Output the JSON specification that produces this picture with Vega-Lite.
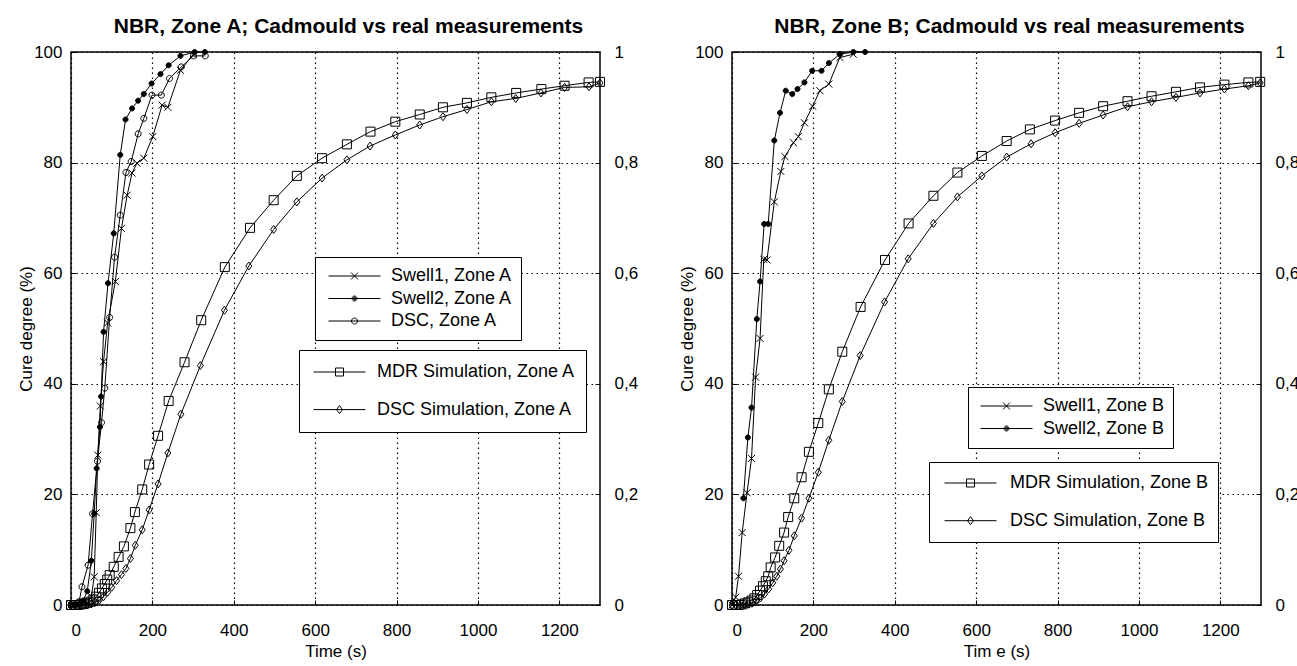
{
"$schema": "https://vega.github.io/schema/vega-lite/v6.json",
"background": "white",
"padding": {"left": 16, "top": 15, "right": 0, "bottom": 0},
"datasets": {"d": [
{"s":"MDR Simulation, Zone A","t":0,"c":0},{"s":"MDR Simulation, Zone A","t":8,"c":0},{"s":"MDR Simulation, Zone A","t":16,"c":0},{"s":"MDR Simulation, Zone A","t":24,"c":0.1},{"s":"MDR Simulation, Zone A","t":32,"c":0.2},{"s":"MDR Simulation, Zone A","t":40,"c":0.4},{"s":"MDR Simulation, Zone A","t":48,"c":0.6},{"s":"MDR Simulation, Zone A","t":55,"c":1.0},{"s":"MDR Simulation, Zone A","t":62,"c":1.5},{"s":"MDR Simulation, Zone A","t":69,"c":2.2},{"s":"MDR Simulation, Zone A","t":76,"c":3.0},{"s":"MDR Simulation, Zone A","t":83,"c":3.8},{"s":"MDR Simulation, Zone A","t":89,"c":4.6},{"s":"MDR Simulation, Zone A","t":95,"c":5.4},{"s":"MDR Simulation, Zone A","t":105,"c":6.9},{"s":"MDR Simulation, Zone A","t":117,"c":8.7},{"s":"MDR Simulation, Zone A","t":130,"c":10.6},{"s":"MDR Simulation, Zone A","t":146,"c":13.9},{"s":"MDR Simulation, Zone A","t":157,"c":16.8},{"s":"MDR Simulation, Zone A","t":175,"c":20.9},{"s":"MDR Simulation, Zone A","t":192,"c":25.4},{"s":"MDR Simulation, Zone A","t":214,"c":30.6},{"s":"MDR Simulation, Zone A","t":240,"c":36.9},{"s":"MDR Simulation, Zone A","t":279,"c":43.9},{"s":"MDR Simulation, Zone A","t":320,"c":51.5},{"s":"MDR Simulation, Zone A","t":378,"c":61.1},{"s":"MDR Simulation, Zone A","t":440,"c":68.2},{"s":"MDR Simulation, Zone A","t":498,"c":73.2},{"s":"MDR Simulation, Zone A","t":555,"c":77.6},{"s":"MDR Simulation, Zone A","t":617,"c":80.8},{"s":"MDR Simulation, Zone A","t":678,"c":83.3},{"s":"MDR Simulation, Zone A","t":736,"c":85.6},{"s":"MDR Simulation, Zone A","t":797,"c":87.4},{"s":"MDR Simulation, Zone A","t":857,"c":88.7},{"s":"MDR Simulation, Zone A","t":914,"c":90.0},{"s":"MDR Simulation, Zone A","t":973,"c":90.8},{"s":"MDR Simulation, Zone A","t":1033,"c":91.8},{"s":"MDR Simulation, Zone A","t":1094,"c":92.6},{"s":"MDR Simulation, Zone A","t":1156,"c":93.3},{"s":"MDR Simulation, Zone A","t":1213,"c":93.9},{"s":"MDR Simulation, Zone A","t":1272,"c":94.5},{"s":"MDR Simulation, Zone A","t":1300,"c":94.6},
{"s":"DSC Simulation, Zone A","t":0,"c":0},{"s":"DSC Simulation, Zone A","t":10,"c":0},{"s":"DSC Simulation, Zone A","t":20,"c":0},{"s":"DSC Simulation, Zone A","t":30,"c":0},{"s":"DSC Simulation, Zone A","t":40,"c":0.1},{"s":"DSC Simulation, Zone A","t":50,"c":0.2},{"s":"DSC Simulation, Zone A","t":60,"c":0.5},{"s":"DSC Simulation, Zone A","t":70,"c":0.9},{"s":"DSC Simulation, Zone A","t":80,"c":1.5},{"s":"DSC Simulation, Zone A","t":90,"c":2.3},{"s":"DSC Simulation, Zone A","t":100,"c":3.2},{"s":"DSC Simulation, Zone A","t":112,"c":4.4},{"s":"DSC Simulation, Zone A","t":124,"c":5.5},{"s":"DSC Simulation, Zone A","t":135,"c":6.6},{"s":"DSC Simulation, Zone A","t":146,"c":8.4},{"s":"DSC Simulation, Zone A","t":158,"c":10.8},{"s":"DSC Simulation, Zone A","t":175,"c":13.6},{"s":"DSC Simulation, Zone A","t":192,"c":17.2},{"s":"DSC Simulation, Zone A","t":214,"c":21.9},{"s":"DSC Simulation, Zone A","t":238,"c":27.5},{"s":"DSC Simulation, Zone A","t":270,"c":34.5},{"s":"DSC Simulation, Zone A","t":318,"c":43.3},{"s":"DSC Simulation, Zone A","t":377,"c":53.3},{"s":"DSC Simulation, Zone A","t":437,"c":61.3},{"s":"DSC Simulation, Zone A","t":498,"c":67.9},{"s":"DSC Simulation, Zone A","t":555,"c":72.9},{"s":"DSC Simulation, Zone A","t":617,"c":77.2},{"s":"DSC Simulation, Zone A","t":678,"c":80.5},{"s":"DSC Simulation, Zone A","t":735,"c":83.0},{"s":"DSC Simulation, Zone A","t":797,"c":85.0},{"s":"DSC Simulation, Zone A","t":857,"c":86.8},{"s":"DSC Simulation, Zone A","t":914,"c":88.3},{"s":"DSC Simulation, Zone A","t":973,"c":89.6},{"s":"DSC Simulation, Zone A","t":1033,"c":91.0},{"s":"DSC Simulation, Zone A","t":1093,"c":91.6},{"s":"DSC Simulation, Zone A","t":1155,"c":92.6},{"s":"DSC Simulation, Zone A","t":1213,"c":93.6},{"s":"DSC Simulation, Zone A","t":1273,"c":93.7},{"s":"DSC Simulation, Zone A","t":1300,"c":94.4},
{"s":"Swell1, Zone A","t":0,"c":0},{"s":"Swell1, Zone A","t":20,"c":0},{"s":"Swell1, Zone A","t":40,"c":0.3},{"s":"Swell1, Zone A","t":50,"c":1.5},{"s":"Swell1, Zone A","t":57,"c":5.1},{"s":"Swell1, Zone A","t":62,"c":16.7},{"s":"Swell1, Zone A","t":66,"c":27.1},{"s":"Swell1, Zone A","t":72,"c":36},{"s":"Swell1, Zone A","t":80,"c":44},{"s":"Swell1, Zone A","t":90,"c":51},{"s":"Swell1, Zone A","t":109,"c":58.5},{"s":"Swell1, Zone A","t":124,"c":68.1},{"s":"Swell1, Zone A","t":138,"c":74.1},{"s":"Swell1, Zone A","t":150,"c":78.1},{"s":"Swell1, Zone A","t":162,"c":79.9},{"s":"Swell1, Zone A","t":179,"c":80.8},{"s":"Swell1, Zone A","t":201,"c":84.7},{"s":"Swell1, Zone A","t":224,"c":90.4},{"s":"Swell1, Zone A","t":238,"c":90.0},{"s":"Swell1, Zone A","t":269,"c":96.7},{"s":"Swell1, Zone A","t":300,"c":99.5},
{"s":"Swell2, Zone A","t":0,"c":0},{"s":"Swell2, Zone A","t":10,"c":0},{"s":"Swell2, Zone A","t":20,"c":0.2},{"s":"Swell2, Zone A","t":30,"c":0.8},{"s":"Swell2, Zone A","t":40,"c":2.5},{"s":"Swell2, Zone A","t":50,"c":8},{"s":"Swell2, Zone A","t":57,"c":16.5},{"s":"Swell2, Zone A","t":63,"c":24.7},{"s":"Swell2, Zone A","t":71,"c":32.2},{"s":"Swell2, Zone A","t":74,"c":37.7},{"s":"Swell2, Zone A","t":80,"c":49.4},{"s":"Swell2, Zone A","t":91,"c":58.2},{"s":"Swell2, Zone A","t":105,"c":67.2},{"s":"Swell2, Zone A","t":121,"c":81.4},{"s":"Swell2, Zone A","t":134,"c":87.8},{"s":"Swell2, Zone A","t":150,"c":89.8},{"s":"Swell2, Zone A","t":165,"c":91.2},{"s":"Swell2, Zone A","t":179,"c":92.4},{"s":"Swell2, Zone A","t":198,"c":94.3},{"s":"Swell2, Zone A","t":220,"c":96.0},{"s":"Swell2, Zone A","t":240,"c":97.6},{"s":"Swell2, Zone A","t":269,"c":99.3},{"s":"Swell2, Zone A","t":304,"c":100},{"s":"Swell2, Zone A","t":329,"c":100},
{"s":"DSC, Zone A","t":0,"c":0},{"s":"DSC, Zone A","t":10,"c":0},{"s":"DSC, Zone A","t":20,"c":0.6},{"s":"DSC, Zone A","t":27,"c":3.3},{"s":"DSC, Zone A","t":42,"c":7.2},{"s":"DSC, Zone A","t":53,"c":16.5},{"s":"DSC, Zone A","t":65,"c":26},{"s":"DSC, Zone A","t":75,"c":33},{"s":"DSC, Zone A","t":83,"c":39.2},{"s":"DSC, Zone A","t":95,"c":52},{"s":"DSC, Zone A","t":107,"c":62.9},{"s":"DSC, Zone A","t":121,"c":70.5},{"s":"DSC, Zone A","t":135,"c":78.2},{"s":"DSC, Zone A","t":148,"c":80.2},{"s":"DSC, Zone A","t":165,"c":85.2},{"s":"DSC, Zone A","t":179,"c":88.0},{"s":"DSC, Zone A","t":199,"c":92.2},{"s":"DSC, Zone A","t":222,"c":92.2},{"s":"DSC, Zone A","t":242,"c":95.2},{"s":"DSC, Zone A","t":271,"c":97.3},{"s":"DSC, Zone A","t":301,"c":99.3},{"s":"DSC, Zone A","t":330,"c":99.3},
{"s":"MDR Simulation, Zone B","t":0,"c":0},{"s":"MDR Simulation, Zone B","t":8,"c":0},{"s":"MDR Simulation, Zone B","t":16,"c":0},{"s":"MDR Simulation, Zone B","t":24,"c":0.1},{"s":"MDR Simulation, Zone B","t":32,"c":0.3},{"s":"MDR Simulation, Zone B","t":40,"c":0.5},{"s":"MDR Simulation, Zone B","t":48,"c":0.8},{"s":"MDR Simulation, Zone B","t":55,"c":1.2},{"s":"MDR Simulation, Zone B","t":62,"c":1.8},{"s":"MDR Simulation, Zone B","t":69,"c":2.6},{"s":"MDR Simulation, Zone B","t":76,"c":3.4},{"s":"MDR Simulation, Zone B","t":83,"c":4.3},{"s":"MDR Simulation, Zone B","t":89,"c":5.2},{"s":"MDR Simulation, Zone B","t":95,"c":6.8},{"s":"MDR Simulation, Zone B","t":106,"c":8.6},{"s":"MDR Simulation, Zone B","t":116,"c":10.7},{"s":"MDR Simulation, Zone B","t":128,"c":13.1},{"s":"MDR Simulation, Zone B","t":138,"c":15.9},{"s":"MDR Simulation, Zone B","t":153,"c":19.3},{"s":"MDR Simulation, Zone B","t":171,"c":23.1},{"s":"MDR Simulation, Zone B","t":189,"c":27.7},{"s":"MDR Simulation, Zone B","t":212,"c":32.9},{"s":"MDR Simulation, Zone B","t":238,"c":39.0},{"s":"MDR Simulation, Zone B","t":271,"c":45.8},{"s":"MDR Simulation, Zone B","t":316,"c":53.9},{"s":"MDR Simulation, Zone B","t":376,"c":62.4},{"s":"MDR Simulation, Zone B","t":434,"c":69.0},{"s":"MDR Simulation, Zone B","t":495,"c":74.0},{"s":"MDR Simulation, Zone B","t":554,"c":78.2},{"s":"MDR Simulation, Zone B","t":614,"c":81.2},{"s":"MDR Simulation, Zone B","t":675,"c":83.9},{"s":"MDR Simulation, Zone B","t":732,"c":86.0},{"s":"MDR Simulation, Zone B","t":794,"c":87.6},{"s":"MDR Simulation, Zone B","t":853,"c":89.0},{"s":"MDR Simulation, Zone B","t":912,"c":90.2},{"s":"MDR Simulation, Zone B","t":972,"c":91.1},{"s":"MDR Simulation, Zone B","t":1031,"c":92.0},{"s":"MDR Simulation, Zone B","t":1091,"c":92.8},{"s":"MDR Simulation, Zone B","t":1150,"c":93.6},{"s":"MDR Simulation, Zone B","t":1210,"c":94.1},{"s":"MDR Simulation, Zone B","t":1269,"c":94.5},{"s":"MDR Simulation, Zone B","t":1298,"c":94.6},
{"s":"DSC Simulation, Zone B","t":0,"c":0},{"s":"DSC Simulation, Zone B","t":10,"c":0},{"s":"DSC Simulation, Zone B","t":20,"c":0},{"s":"DSC Simulation, Zone B","t":30,"c":0.1},{"s":"DSC Simulation, Zone B","t":40,"c":0.2},{"s":"DSC Simulation, Zone B","t":50,"c":0.4},{"s":"DSC Simulation, Zone B","t":60,"c":0.8},{"s":"DSC Simulation, Zone B","t":70,"c":1.3},{"s":"DSC Simulation, Zone B","t":80,"c":2.0},{"s":"DSC Simulation, Zone B","t":90,"c":2.9},{"s":"DSC Simulation, Zone B","t":100,"c":4.0},{"s":"DSC Simulation, Zone B","t":110,"c":5.2},{"s":"DSC Simulation, Zone B","t":119,"c":6.5},{"s":"DSC Simulation, Zone B","t":128,"c":8.0},{"s":"DSC Simulation, Zone B","t":140,"c":9.9},{"s":"DSC Simulation, Zone B","t":153,"c":12.5},{"s":"DSC Simulation, Zone B","t":171,"c":15.7},{"s":"DSC Simulation, Zone B","t":189,"c":19.3},{"s":"DSC Simulation, Zone B","t":212,"c":24.0},{"s":"DSC Simulation, Zone B","t":238,"c":29.8},{"s":"DSC Simulation, Zone B","t":271,"c":36.8},{"s":"DSC Simulation, Zone B","t":315,"c":45.1},{"s":"DSC Simulation, Zone B","t":375,"c":54.8},{"s":"DSC Simulation, Zone B","t":433,"c":62.6},{"s":"DSC Simulation, Zone B","t":495,"c":69.0},{"s":"DSC Simulation, Zone B","t":554,"c":73.8},{"s":"DSC Simulation, Zone B","t":614,"c":77.6},{"s":"DSC Simulation, Zone B","t":675,"c":81.0},{"s":"DSC Simulation, Zone B","t":735,"c":83.4},{"s":"DSC Simulation, Zone B","t":794,"c":85.4},{"s":"DSC Simulation, Zone B","t":853,"c":87.1},{"s":"DSC Simulation, Zone B","t":912,"c":88.6},{"s":"DSC Simulation, Zone B","t":972,"c":90.1},{"s":"DSC Simulation, Zone B","t":1031,"c":91.0},{"s":"DSC Simulation, Zone B","t":1091,"c":91.8},{"s":"DSC Simulation, Zone B","t":1150,"c":92.6},{"s":"DSC Simulation, Zone B","t":1210,"c":93.3},{"s":"DSC Simulation, Zone B","t":1269,"c":93.9},{"s":"DSC Simulation, Zone B","t":1298,"c":94.4},
{"s":"Swell1, Zone B","t":0,"c":0},{"s":"Swell1, Zone B","t":9,"c":1.4},{"s":"Swell1, Zone B","t":16,"c":5.2},{"s":"Swell1, Zone B","t":25,"c":13.1},{"s":"Swell1, Zone B","t":37,"c":20.3},{"s":"Swell1, Zone B","t":48,"c":26.5},{"s":"Swell1, Zone B","t":58,"c":41.2},{"s":"Swell1, Zone B","t":69,"c":48.2},{"s":"Swell1, Zone B","t":78,"c":62.5},{"s":"Swell1, Zone B","t":86,"c":62.4},{"s":"Swell1, Zone B","t":104,"c":72.9},{"s":"Swell1, Zone B","t":120,"c":78.4},{"s":"Swell1, Zone B","t":130,"c":81.1},{"s":"Swell1, Zone B","t":151,"c":83.6},{"s":"Swell1, Zone B","t":163,"c":84.7},{"s":"Swell1, Zone B","t":178,"c":87.2},{"s":"Swell1, Zone B","t":198,"c":90.2},{"s":"Swell1, Zone B","t":216,"c":93.0},{"s":"Swell1, Zone B","t":238,"c":94.2},{"s":"Swell1, Zone B","t":265,"c":99.0},{"s":"Swell1, Zone B","t":298,"c":99.6},
{"s":"Swell2, Zone B","t":28,"c":19.3},{"s":"Swell2, Zone B","t":39,"c":30.3},{"s":"Swell2, Zone B","t":48,"c":35.7},{"s":"Swell2, Zone B","t":61,"c":51.7},{"s":"Swell2, Zone B","t":69,"c":58.5},{"s":"Swell2, Zone B","t":79,"c":68.9},{"s":"Swell2, Zone B","t":89,"c":68.9},{"s":"Swell2, Zone B","t":104,"c":84.0},{"s":"Swell2, Zone B","t":118,"c":89.0},{"s":"Swell2, Zone B","t":132,"c":93.0},{"s":"Swell2, Zone B","t":148,"c":92.4},{"s":"Swell2, Zone B","t":161,"c":93.3},{"s":"Swell2, Zone B","t":178,"c":94.5},{"s":"Swell2, Zone B","t":197,"c":96.6},{"s":"Swell2, Zone B","t":220,"c":96.6},{"s":"Swell2, Zone B","t":238,"c":98.0},{"s":"Swell2, Zone B","t":265,"c":99.6},{"s":"Swell2, Zone B","t":298,"c":100},{"s":"Swell2, Zone B","t":327,"c":100}
]},
"hconcat": [
{
 "width": 529, "height": 553,
 "title": {"text": "NBR, Zone A; Cadmould vs real measurements", "frame": "group", "dx": 13},
 "data": {"name": "d"},
 "transform": [{"filter": {"field": "s", "oneOf": ["MDR Simulation, Zone A", "DSC Simulation, Zone A", "Swell1, Zone A", "Swell2, Zone A", "DSC, Zone A"]}}],
 "layer": [
  {"mark": {"type": "line", "color": "black", "strokeWidth": 1},
   "encoding": {
    "x": {"field": "t", "type": "quantitative", "scale": {"domain": [0, 1300], "nice": false}, "axis": {"title": "Time (s)", "values": [0, 200, 400, 600, 800, 1000, 1200], "format": "d", "grid": true, "labelPadding": 22, "titleY": 38, "titleBaseline": "top"}},
    "y": {"field": "c", "type": "quantitative", "scale": {"domain": [0, 100], "nice": false}, "axis": {"orient": "left", "title": "Cure degree (%)", "values": [0, 20, 40, 60, 80, 100], "grid": true, "labelPadding": 14, "titleX": -36, "titleY": 276.5}},
    "detail": {"field": "s", "type": "nominal"}
   }},
  {"transform": [{"filter": {"field": "s", "oneOf": ["Swell1, Zone A", "Swell2, Zone A", "DSC, Zone A"]}}],
   "mark": {"type": "point", "filled": false, "color": "black", "opacity": 1, "strokeWidth": 1, "size": 81},
   "encoding": {
    "x": {"field": "t", "type": "quantitative", "scale": {"domain": [0, 1300], "nice": false}},
    "y": {"field": "c", "type": "quantitative", "scale": {"domain": [0, 100], "nice": false}, "axis": {"orient": "right", "title": null, "values": [0, 20, 40, 60, 80, 100], "grid": false, "labelPadding": 19, "labelExpr": "replace(format(datum.value / 100, '~g'), '.', ',')"}},
    "shape": {"field": "s", "type": "nominal", "scale": {"domain": ["Swell1, Zone A", "Swell2, Zone A", "DSC, Zone A"], "range": ["M-0.78,-0.78L0.78,0.78M-0.78,0.78L0.78,-0.78", "M-0.56,0A0.56,0.56 0 1,0 0.56,0A0.56,0.56 0 1,0 -0.56,0Z", "M-0.67,0A0.67,0.67 0 1,0 0.67,0A0.67,0.67 0 1,0 -0.67,0Z"]}, "legend": null},
    "fill": {"condition": {"test": "datum.s === 'Swell2, Zone A'", "value": "black"}, "value": "transparent"}
   }},
  {"transform": [{"filter": {"field": "s", "oneOf": ["MDR Simulation, Zone A", "DSC Simulation, Zone A"]}}],
   "mark": {"type": "point", "filled": false, "color": "black", "opacity": 1, "strokeWidth": 1, "size": 81},
   "encoding": {
    "x": {"field": "t", "type": "quantitative", "scale": {"domain": [0, 1300], "nice": false}},
    "y": {"field": "c", "type": "quantitative", "scale": {"domain": [0, 100], "nice": false}, "axis": null},
    "shape": {"field": "s", "type": "nominal", "scale": {"domain": ["MDR Simulation, Zone A", "DSC Simulation, Zone A"], "range": ["M-1,-1H1V1H-1Z", "M0,-0.89L0.67,0L0,0.89L-0.67,0Z"]}, "legend": null}
   }},
  {"transform": [{"filter": {"field": "s", "equal": "legend only"}}],
   "mark": {"type": "point", "filled": false, "color": "black", "opacity": 1, "strokeWidth": 1},
   "encoding": {
    "x": {"field": "t", "type": "quantitative", "scale": {"domain": [0, 1300], "nice": false}},
    "y": {"field": "c", "type": "quantitative", "scale": {"domain": [0, 100], "nice": false}, "axis": null},
    "shape": {"field": "s", "type": "nominal", "scale": {"domain": ["Swell1, Zone A", "Swell2, Zone A", "DSC, Zone A"], "range": ["M-1,0H1M-0.135,-0.135L0.135,0.135M-0.135,0.135L0.135,-0.135", "M-1,0H1M-0.096,0A0.096,0.096 0 1,0 0.096,0A0.096,0.096 0 1,0 -0.096,0ZM-0.06,0A0.06,0.06 0 1,0 0.06,0A0.06,0.06 0 1,0 -0.06,0ZM-0.025,0A0.025,0.025 0 1,0 0.025,0A0.025,0.025 0 1,0 -0.025,0Z", "M-1,0H1M-0.115,0A0.115,0.115 0 1,0 0.115,0A0.115,0.115 0 1,0 -0.115,0Z"]},
      "legend": {"title": null, "orient": "none", "legendX": 244, "legendY": 205, "padding": 8, "clipHeight": 22, "rowPadding": 0.5, "symbolOffset": 5, "labelOffset": 10}}
   }},
  {"transform": [{"filter": {"field": "s", "equal": "legend only"}}],
   "mark": {"type": "point", "filled": false, "color": "black", "opacity": 1, "strokeWidth": 1},
   "encoding": {
    "x": {"field": "t", "type": "quantitative", "scale": {"domain": [0, 1300], "nice": false}},
    "y": {"field": "c", "type": "quantitative", "scale": {"domain": [0, 100], "nice": false}, "axis": null},
    "shape": {"field": "s", "type": "nominal", "scale": {"domain": ["MDR Simulation, Zone A", "DSC Simulation, Zone A"], "range": ["M-1,0H1M-0.154,-0.154H0.154V0.154H-0.154Z", "M-1,0H1M0,-0.154L0.115,0L0,0.154L-0.115,0Z"]},
      "legend": {"title": null, "orient": "none", "legendX": 228, "legendY": 298, "padding": 10, "clipHeight": 24, "rowPadding": 13.6, "symbolOffset": 4, "labelOffset": 11}}
   }}
 ],
 "resolve": {"scale": {"shape": "independent"}, "axis": {"y": "independent"}}
},
{
 "width": 529, "height": 553,
 "title": {"text": "NBR, Zone B; Cadmould vs real measurements", "frame": "group", "dx": 13},
 "data": {"name": "d"},
 "transform": [{"filter": {"field": "s", "oneOf": ["MDR Simulation, Zone B", "DSC Simulation, Zone B", "Swell1, Zone B", "Swell2, Zone B"]}}],
 "layer": [
  {"mark": {"type": "line", "color": "black", "strokeWidth": 1},
   "encoding": {
    "x": {"field": "t", "type": "quantitative", "scale": {"domain": [0, 1300], "nice": false}, "axis": {"title": "Tim e (s)", "values": [0, 200, 400, 600, 800, 1000, 1200], "format": "d", "grid": true, "labelPadding": 22, "titleY": 38, "titleBaseline": "top"}},
    "y": {"field": "c", "type": "quantitative", "scale": {"domain": [0, 100], "nice": false}, "axis": {"orient": "left", "title": "Cure degree (%)", "values": [0, 20, 40, 60, 80, 100], "grid": true, "labelPadding": 14, "titleX": -36, "titleY": 276.5}},
    "detail": {"field": "s", "type": "nominal"}
   }},
  {"transform": [{"filter": {"field": "s", "oneOf": ["Swell1, Zone B", "Swell2, Zone B"]}}],
   "mark": {"type": "point", "filled": false, "color": "black", "opacity": 1, "strokeWidth": 1, "size": 81},
   "encoding": {
    "x": {"field": "t", "type": "quantitative", "scale": {"domain": [0, 1300], "nice": false}},
    "y": {"field": "c", "type": "quantitative", "scale": {"domain": [0, 100], "nice": false}, "axis": {"orient": "right", "title": null, "values": [0, 20, 40, 60, 80, 100], "grid": false, "labelPadding": 19, "labelExpr": "replace(format(datum.value / 100, '~g'), '.', ',')"}},
    "shape": {"field": "s", "type": "nominal", "scale": {"domain": ["Swell1, Zone B", "Swell2, Zone B"], "range": ["M-0.78,-0.78L0.78,0.78M-0.78,0.78L0.78,-0.78", "M-0.56,0A0.56,0.56 0 1,0 0.56,0A0.56,0.56 0 1,0 -0.56,0Z"]}, "legend": null},
    "fill": {"condition": {"test": "datum.s === 'Swell2, Zone B'", "value": "black"}, "value": "transparent"}
   }},
  {"transform": [{"filter": {"field": "s", "oneOf": ["MDR Simulation, Zone B", "DSC Simulation, Zone B"]}}],
   "mark": {"type": "point", "filled": false, "color": "black", "opacity": 1, "strokeWidth": 1, "size": 81},
   "encoding": {
    "x": {"field": "t", "type": "quantitative", "scale": {"domain": [0, 1300], "nice": false}},
    "y": {"field": "c", "type": "quantitative", "scale": {"domain": [0, 100], "nice": false}, "axis": null},
    "shape": {"field": "s", "type": "nominal", "scale": {"domain": ["MDR Simulation, Zone B", "DSC Simulation, Zone B"], "range": ["M-1,-1H1V1H-1Z", "M0,-0.89L0.67,0L0,0.89L-0.67,0Z"]}, "legend": null}
   }},
  {"transform": [{"filter": {"field": "s", "equal": "legend only"}}],
   "mark": {"type": "point", "filled": false, "color": "black", "opacity": 1, "strokeWidth": 1},
   "encoding": {
    "x": {"field": "t", "type": "quantitative", "scale": {"domain": [0, 1300], "nice": false}},
    "y": {"field": "c", "type": "quantitative", "scale": {"domain": [0, 100], "nice": false}, "axis": null},
    "shape": {"field": "s", "type": "nominal", "scale": {"domain": ["Swell1, Zone B", "Swell2, Zone B"], "range": ["M-1,0H1M-0.135,-0.135L0.135,0.135M-0.135,0.135L0.135,-0.135", "M-1,0H1M-0.096,0A0.096,0.096 0 1,0 0.096,0A0.096,0.096 0 1,0 -0.096,0ZM-0.06,0A0.06,0.06 0 1,0 0.06,0A0.06,0.06 0 1,0 -0.06,0ZM-0.025,0A0.025,0.025 0 1,0 0.025,0A0.025,0.025 0 1,0 -0.025,0Z"]},
      "legend": {"title": null, "orient": "none", "legendX": 236, "legendY": 335, "padding": 8, "clipHeight": 22, "rowPadding": 0.5, "symbolOffset": 4, "labelOffset": 10}}
   }},
  {"transform": [{"filter": {"field": "s", "equal": "legend only"}}],
   "mark": {"type": "point", "filled": false, "color": "black", "opacity": 1, "strokeWidth": 1},
   "encoding": {
    "x": {"field": "t", "type": "quantitative", "scale": {"domain": [0, 1300], "nice": false}},
    "y": {"field": "c", "type": "quantitative", "scale": {"domain": [0, 100], "nice": false}, "axis": null},
    "shape": {"field": "s", "type": "nominal", "scale": {"domain": ["MDR Simulation, Zone B", "DSC Simulation, Zone B"], "range": ["M-1,0H1M-0.154,-0.154H0.154V0.154H-0.154Z", "M-1,0H1M0,-0.154L0.115,0L0,0.154L-0.115,0Z"]},
      "legend": {"title": null, "orient": "none", "legendX": 197, "legendY": 410, "padding": 9, "clipHeight": 24, "rowPadding": 13.7, "symbolOffset": 6, "labelOffset": 13}}
   }}
 ],
 "resolve": {"scale": {"shape": "independent"}, "axis": {"y": "independent"}}
}
],
"spacing": 38,
"resolve": {"scale": {"shape": "independent"}},
"config": {
 "view": {"stroke": "black", "strokeWidth": 1.5},
 "title": {"font": "Liberation Sans", "fontSize": 21, "fontWeight": "bold", "color": "black", "anchor": "middle", "offset": 6},
 "axis": {"labelFont": "Liberation Sans", "labelFontSize": 17, "labelColor": "black", "titleFont": "Liberation Sans", "titleFontSize": 17, "titleFontWeight": "normal", "titleColor": "black", "domain": false, "ticks": true, "tickSize": -5, "tickColor": "black", "tickWidth": 1, "grid": false, "gridColor": "black", "gridOpacity": 1, "gridDash": [1.5, 3.5], "gridWidth": 1.2},
 "legend": {"labelFont": "Liberation Sans", "labelFontSize": 18, "labelColor": "black", "labelLimit": 400, "symbolSize": 2704, "symbolStrokeWidth": 1, "symbolStrokeColor": "black", "strokeColor": "black", "fillColor": "white", "cornerRadius": 0}
}
}
